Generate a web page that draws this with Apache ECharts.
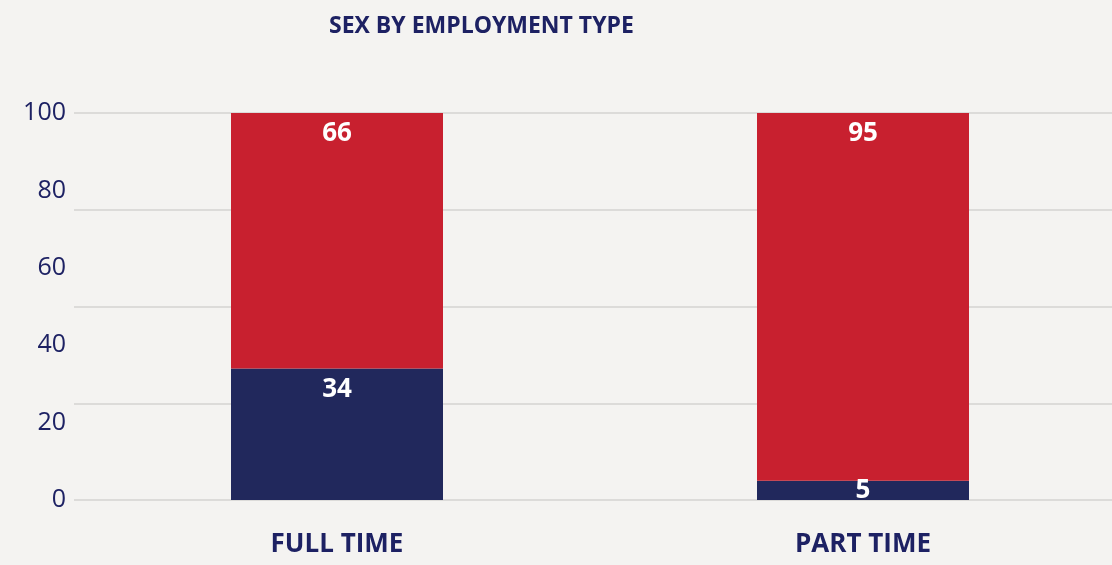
<!DOCTYPE html>
<html>
<head>
<meta charset="utf-8">
<script src="https://cdn.jsdelivr.net/npm/echarts@6/dist/echarts.min.js"></script>
<style>
    html, body { margin: 0; padding: 0; background: #f4f3f1; overflow: hidden; }
    /* plot area runs a little past the right edge of the window */
    #chart { width: 1126px; height: 565px; }
</style>
</head>
<body>
<div id="chart"></div>
<script>
    // data
    var categories = ['FULL TIME', 'PART TIME'];
    var male = [34, 5];
    var female = [66, 95];

    var navy = '#1d2163';
    var font = '"Open Sans", "DejaVu Sans", sans-serif';

    var chart = echarts.init(document.getElementById('chart'));

    var labelStyle = {
        show: true,
        position: 'insideTop',
        distance: 8,
        color: '#fff',
        fontSize: 26,
        fontWeight: 'bold',
        fontFamily: font
    };

    // very short segments get their label centred in the bar
    function withLabels(values) {
        return values.map(function (v) {
            return v < 10 ? { value: v, label: { position: 'inside' } } : v;
        });
    }

    chart.setOption({
        backgroundColor: '#f4f3f1',
        animation: false,
        title: {
            text: 'SEX BY EMPLOYMENT TYPE',
            left: 324,
            top: 10,
            textStyle: { color: navy, fontSize: 23, fontWeight: 'bold', fontFamily: font }
        },
        grid: { left: 74, top: 113, right: 0, bottom: 65 },
        xAxis: {
            type: 'category',
            data: categories,
            axisLine: { show: false },
            axisTick: { show: false },
            axisLabel: { color: navy, fontSize: 26, fontWeight: 'bold', fontFamily: font, margin: 32 }
        },
        yAxis: [
            {
                // labels every 20
                type: 'value', min: 0, max: 100, interval: 20,
                axisLabel: { color: navy, fontSize: 25, fontFamily: font, margin: 8 },
                splitLine: { show: false },
                axisLine: { show: false },
                axisTick: { show: false }
            },
            {
                // gridlines every 25
                type: 'value', min: 0, max: 100, interval: 25,
                position: 'left',
                axisLabel: { show: false },
                splitLine: { lineStyle: { color: '#dcdbd9', width: 2 } },
                axisLine: { show: false },
                axisTick: { show: false }
            }
        ],
        series: [
            {
                name: 'Male',
                type: 'bar',
                stack: 'sex',
                barWidth: 212,
                data: withLabels(male),
                itemStyle: { color: '#21285c' },
                label: labelStyle
            },
            {
                name: 'Female',
                type: 'bar',
                stack: 'sex',
                barWidth: 212,
                data: withLabels(female),
                itemStyle: { color: '#c8202f' },
                label: labelStyle
            }
        ]
    });
</script>
</body>
</html>
